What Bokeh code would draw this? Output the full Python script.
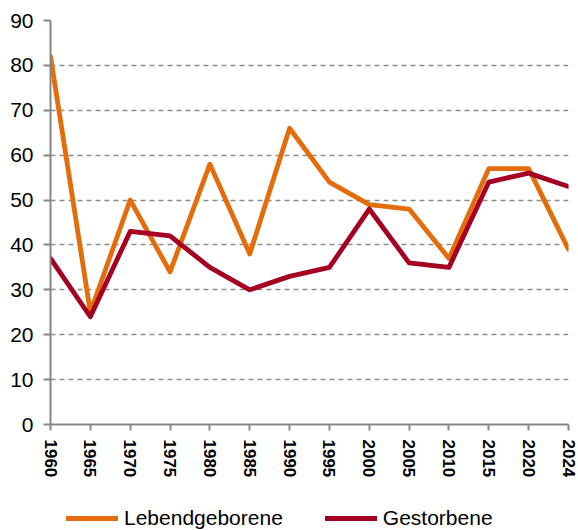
import math
from bokeh.plotting import figure
from bokeh.layouts import column
from bokeh.models import Range1d, FixedTicker, Legend, LegendItem
from bokeh.embed import file_html
from bokeh.resources import INLINE

years = ["1960", "1965", "1970", "1975", "1980", "1985", "1990",
         "1995", "2000", "2005", "2010", "2015", "2020", "2024"]
lebendgeborene = [82, 25, 50, 34, 58, 38, 66, 54, 49, 48, 37, 57, 57, 39]
gestorbene = [37, 24, 43, 42, 35, 30, 33, 35, 48, 36, 35, 54, 56, 53]
y_ticks = [0, 10, 20, 30, 40, 50, 60, 70, 80, 90]
series_names = ["Lebendgeborene", "Gestorbene"]
series_colors = ["#E46C0A", "#A50021"]
series_values = [lebendgeborene, gestorbene]

xs = list(range(len(years)))
FONT = "Liberation Sans"
LW = 4.8

p = figure(width=578, height=490, output_backend="svg", toolbar_location=None,
           x_range=Range1d(0, len(years) - 1), y_range=Range1d(0, 90),
           min_border_left=50, min_border_right=10, min_border_top=20,
           min_border_bottom=66)
p.outline_line_color = None
p.background_fill_color = "white"
p.border_fill_color = "white"

for vals, color in zip(series_values, series_colors):
    p.line(xs, vals, line_color=color, line_width=LW,
           line_join="round", line_cap="round")

# axes
p.xaxis.ticker = FixedTicker(ticks=xs)
p.xaxis.major_label_overrides = {i: y for i, y in enumerate(years)}
p.xaxis.major_label_orientation = -math.pi / 2
p.xaxis.major_label_text_font = FONT
p.xaxis.major_label_text_font_size = "17px"
p.xaxis.major_label_text_font_style = "bold"
p.xaxis.major_label_text_color = "black"
p.xaxis.major_label_standoff = 9
p.xaxis.minor_tick_line_color = None
p.xaxis.major_tick_in = 0
p.xaxis.major_tick_out = 6

p.yaxis.ticker = FixedTicker(ticks=y_ticks)
p.yaxis.major_label_text_font = FONT
p.yaxis.major_label_text_font_size = "21px"
p.yaxis.major_label_text_color = "black"
p.yaxis.major_label_standoff = 10
p.yaxis.minor_tick_line_color = None
p.yaxis.major_tick_in = 0
p.yaxis.major_tick_out = 7

for ax in (p.xaxis, p.yaxis):
    ax.axis_line_color = "#868686"
    ax.axis_line_width = 2
    ax.major_tick_line_color = "#868686"
    ax.major_tick_line_width = 2

p.xgrid.grid_line_color = None
p.ygrid.grid_line_color = "#8C8C8C"
p.ygrid.grid_line_width = 1.3
p.ygrid.grid_line_dash = "5 4"

# legend strip below the chart (same series, drawn outside its visible range,
# so only the legend entries show)
lg = figure(width=578, height=40, output_backend="svg", toolbar_location=None,
            x_range=Range1d(0, len(years) - 1), y_range=Range1d(1000, 1001),
            min_border=0, min_border_left=0, min_border_right=0,
            min_border_top=0, min_border_bottom=0)
lg.axis.visible = False
lg.grid.visible = False
lg.outline_line_color = None
lg.background_fill_color = "white"
lg.border_fill_color = "white"
items = []
for name, vals, color in zip(series_names, series_values, series_colors):
    r = lg.line(xs, vals, line_color=color, line_width=LW, line_cap="round")
    items.append(LegendItem(label=name, renderers=[r]))
legend = Legend(items=items, location=(16, 0), orientation="horizontal",
                label_text_font=FONT, label_text_font_size="21px",
                label_text_color="black", glyph_width=52, glyph_height=24,
                label_height=24, label_standoff=6, spacing=42, padding=0,
                margin=0, border_line_color=None, background_fill_alpha=0)
lg.add_layout(legend, "center")

layout = column(p, lg, spacing=0)
open("out.html", "w").write(file_html(layout, INLINE))
